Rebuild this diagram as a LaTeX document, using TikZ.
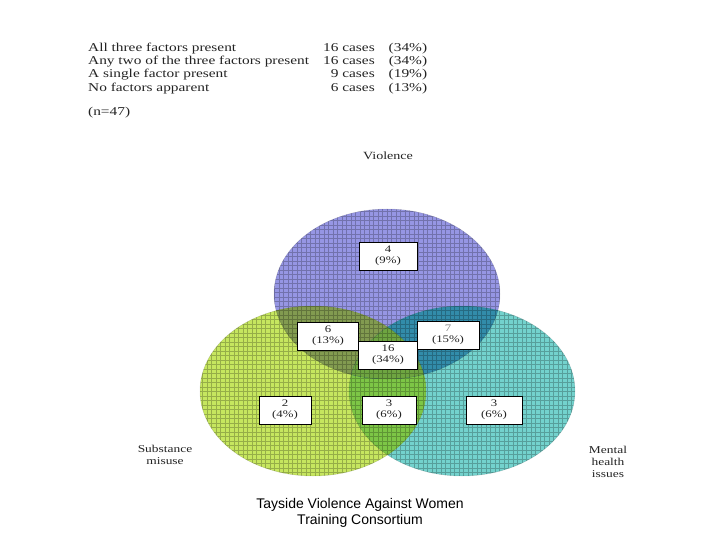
\documentclass[tikz,border=0pt]{standalone}
\usepackage{fontspec}
\setmainfont{Liberation Serif}[FakeStretch=1.28]
\newfontfamily\footfont{Liberation Sans}
\usetikzlibrary{positioning}
\definecolor{VioFill}{RGB}{150,150,228}
\definecolor{TealFill}{RGB}{115,210,205}
\definecolor{GreenFill}{RGB}{198,230,95}
\definecolor{VioGreen}{RGB}{130,155,80}
\definecolor{VioTeal}{RGB}{50,140,170}
\definecolor{GreenTeal}{RGB}{125,198,70}
\definecolor{AllThree}{RGB}{110,165,65}
\definecolor{TextGrey}{RGB}{35,35,35}

\begin{document}
\begin{tikzpicture}[x=1pt, y=-1pt,
	vennshape/.style={x radius=113pt, y radius=85pt},
	countbox/.style={draw=black, line width=0.8pt, fill=white, minimum width=58pt,
		minimum height=28pt, inner sep=1pt, align=center, text=TextGrey,
		font=\fontsize{10}{11.5}\selectfont},
	setlabel/.style={align=center, text=TextGrey, font=\fontsize{10.5}{12}\selectfont}]
	\useasboundingbox (0,0) rectangle (720,540);
	
	% tally of cases
	\node[anchor=north west, inner sep=0pt, text=TextGrey,
		font=\fontsize{12}{13.4}\selectfont] (tally) at (88,41.6) {%
		\begin{tabular}{@{}l@{\hspace{14pt}}r@{\hspace{14pt}}l@{}}
			All three factors present & 16 cases & (34\%)\\
			Any two of the three factors present & 16 cases & (34\%)\\
			A single factor present & 9 cases & (19\%)\\
			No factors apparent & 6 cases & (13\%)
		\end{tabular}};
	\node[anchor=base west, inner sep=0pt, text=TextGrey,
		font=\fontsize{12}{13.4}\selectfont] (total) at (88,116) {(n=47)};
	
	% the three sets
	\coordinate (V) at (387,294);
	\coordinate (G) at (313,391);
	\coordinate (T) at (462,391);
	\fill[VioFill] (V) ellipse [vennshape];
	\fill[TealFill] (T) ellipse [vennshape];
	\fill[GreenFill] (G) ellipse [vennshape];
	% overlaps
	\begin{scope}
		\clip (G) ellipse [vennshape];
		\fill[GreenTeal] (T) ellipse [vennshape];
	\end{scope}
	\begin{scope}
		\clip (V) ellipse [vennshape];
		\fill[VioGreen] (G) ellipse [vennshape];
		\fill[VioTeal] (T) ellipse [vennshape];
		\clip (G) ellipse [vennshape];
		\fill[AllThree] (T) ellipse [vennshape];
	\end{scope}
	% grid texture
	\begin{scope}
		\clip (V) ellipse [vennshape] (G) ellipse [vennshape] (T) ellipse [vennshape];
		\draw[black, opacity=0.24, line width=0.45pt, step=4.5pt] (190,200) grid (590,480);
	\end{scope}
	\draw[black, opacity=0.15, line width=0.5pt]
		(V) ellipse [vennshape] (G) ellipse [vennshape] (T) ellipse [vennshape];
	
	% counts
	\node[countbox] (vio) at (388,256) {4\\(9\%)};
	\node[countbox, minimum width=61pt] (viosub) at (328,336) {6\\(13\%)};
	\node[countbox, minimum width=62pt] (viomen) at (448,335) {{\color{gray}7}\\(15\%)};
	\node[countbox, minimum width=59pt] (all) at (388,355) {16\\(34\%)};
	\node[countbox, minimum width=52pt] (sub) at (285,410) {2\\(4\%)};
	\node[countbox, minimum width=54pt] (submen) at (389,410) {3\\(6\%)};
	\node[countbox, minimum width=56pt] (men) at (494,410) {3\\(6\%)};
	
	% set names
	\node[setlabel, font=\fontsize{11}{12}\selectfont] (violence) at (388,156) {Violence};
	\node[setlabel] (substance) at (165,455) {Substance\\misuse};
	\node[setlabel] (mental) at (608,462) {Mental\\health\\issues};
	
	% footer
	\node[align=center, font=\footfont\fontsize{14}{16}\selectfont] (footer) at (360,513)
		{Tayside Violence Against Women\\Training Consortium};
\end{tikzpicture}
\end{document}
